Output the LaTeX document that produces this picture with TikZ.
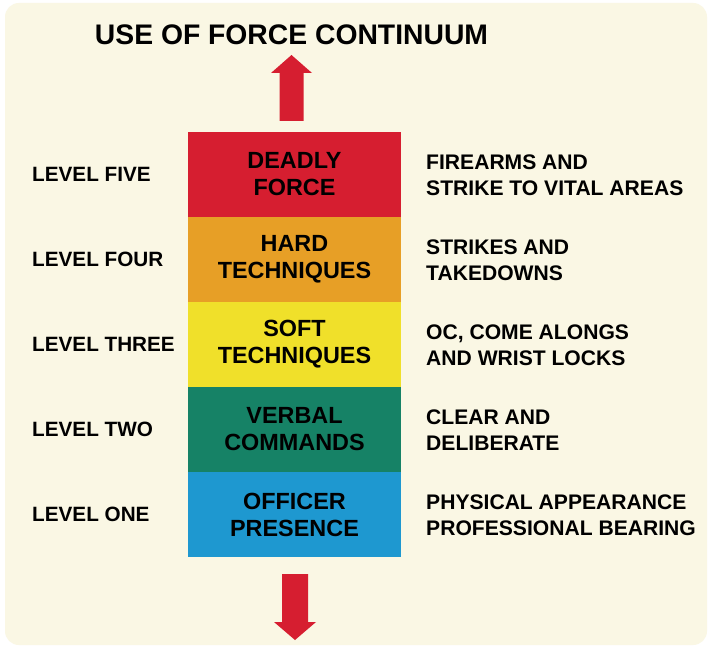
\documentclass[tikz,border=0pt]{standalone}
\usepackage{fontspec}
\setmainfont{Liberation Sans}
\definecolor{cream}{RGB}{250,247,228}
\definecolor{lvred}{RGB}{214,30,48}
\definecolor{lvorange}{RGB}{231,159,38}
\definecolor{lvyellow}{RGB}{240,224,42}
\definecolor{lvgreen}{RGB}{22,130,102}
\definecolor{lvblue}{RGB}{30,152,208}
\definecolor{arrowred}{RGB}{214,30,48}
\begin{document}
\begin{tikzpicture}[x=1pt,y=-1pt,
  band/.style={rectangle, minimum width=213pt, minimum height=85pt, inner sep=0pt,
    align=center, font=\fontsize{23.4}{27}\selectfont\bfseries, text=black},
  lvlabel/.style={anchor=west, inner sep=0pt, font=\fontsize{20.7}{25}\selectfont\bfseries},
  desc/.style={anchor=west, inner sep=0pt, align=left, font=\fontsize{21.1}{26}\selectfont\bfseries},
  bigarrow/.style={fill=arrowred, draw=none}]
\useasboundingbox (0,0) rectangle (709,647);
\fill[white] (0,0) rectangle (709,647);
\fill[cream, rounded corners=14pt] (5,3) rectangle (707,645);

\node[anchor=center, inner sep=0pt, font=\fontsize{28.3}{32}\selectfont\bfseries] (title) at (291.5,35) {USE OF FORCE CONTINUUM};

\node[band, fill=lvred]    (b5) at (294.5,174.5) {DEADLY\\FORCE};
\node[band, fill=lvorange] (b4) at (294.5,259.5) {HARD\\TECHNIQUES};
\node[band, fill=lvyellow] (b3) at (294.5,344.5) {SOFT\\TECHNIQUES};
\node[band, fill=lvgreen]  (b2) at (294.5,429.5) {VERBAL\\COMMANDS};
\node[band, fill=lvblue]   (b1) at (294.5,514.5) {OFFICER\\PRESENCE};

\node[lvlabel] (l5) at (32,174.5) {LEVEL FIVE};
\node[lvlabel] (l4) at (32,259.5) {LEVEL FOUR};
\node[lvlabel] (l3) at (32,344.5) {LEVEL THREE};
\node[lvlabel] (l2) at (32,429.5) {LEVEL TWO};
\node[lvlabel] (l1) at (32,514.5) {LEVEL ONE};

\node[desc] (d5) at (426,175) {FIREARMS AND\\STRIKE TO VITAL AREAS};
\node[desc] (d4) at (426,260) {STRIKES AND\\TAKEDOWNS};
\node[desc] (d3) at (426,345) {OC, COME ALONGS\\AND WRIST LOCKS};
\node[desc] (d2) at (426,430) {CLEAR AND\\DELIBERATE};
\node[desc] (d1) at (426,515) {PHYSICAL APPEARANCE\\PROFESSIONAL BEARING};

% up arrow
\fill[bigarrow] (279.5,121) -- (279.5,73) -- (271,73) -- (291.5,55) -- (312,73) -- (303.5,73) -- (303.5,121) -- cycle;
% down arrow
\fill[bigarrow] (282,574) -- (282,622) -- (274,622) -- (295,640) -- (316,622) -- (308,622) -- (308,574) -- cycle;
\end{tikzpicture}
\end{document}
